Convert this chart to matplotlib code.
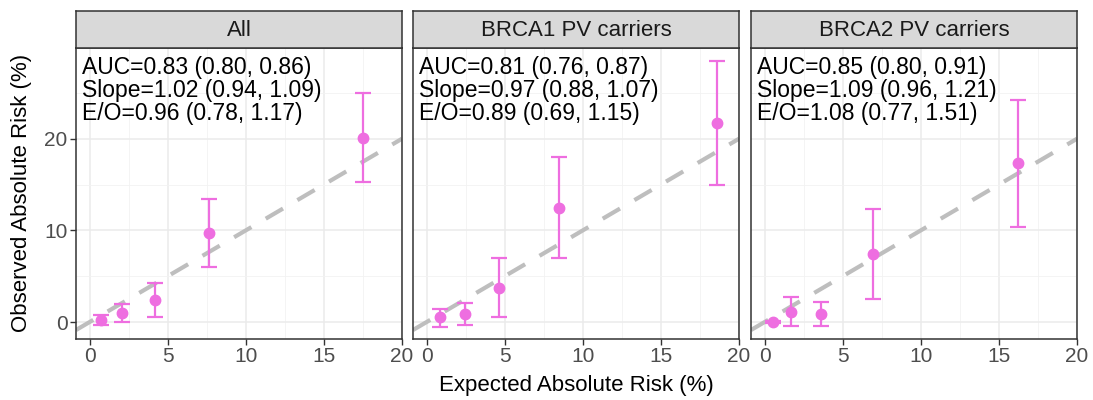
import matplotlib
matplotlib.use('Agg')
import matplotlib.pyplot as plt
import numpy as np
from matplotlib.ticker import MultipleLocator

plt.rcParams['font.family'] = ['Liberation Sans', 'DejaVu Sans']

panels = ['All', 'BRCA1 PV carriers', 'BRCA2 PV carriers']

# expected (x), observed (y) and 95% CI of observed, per panel
expected = [
    [0.70, 2.08, 4.20, 7.65, 17.50],
    [0.85, 2.47, 4.64, 8.50, 18.57],
    [0.53, 1.69, 3.63, 6.92, 16.20],
]
observed = [
    [0.20, 1.00, 2.40, 9.70, 20.10],
    [0.50, 0.87, 3.70, 12.40, 21.70],
    [0.00, 1.10, 0.90, 7.40, 17.35],
]
ci_low = [
    [-0.30, 0.00, 0.60, 6.00, 15.30],
    [-0.55, -0.36, 0.55, 6.95, 14.90],
    [-0.10, -0.47, -0.40, 2.50, 10.40],
]
ci_high = [
    [0.80, 1.96, 4.30, 13.45, 25.00],
    [1.45, 2.07, 6.95, 17.96, 28.50],
    [0.10, 2.73, 2.20, 12.30, 24.20],
]
stats = [
    ['AUC=0.83 (0.80, 0.86)', 'Slope=1.02 (0.94, 1.09)', 'E/O=0.96 (0.78, 1.17)'],
    ['AUC=0.81 (0.76, 0.87)', 'Slope=0.97 (0.88, 1.07)', 'E/O=0.89 (0.69, 1.15)'],
    ['AUC=0.85 (0.80, 0.91)', 'Slope=1.09 (0.96, 1.21)', 'E/O=1.08 (0.77, 1.51)'],
]

pink = '#EE6EE0'
dark = '#333333'
W, H = 1093, 400
fig = plt.figure(figsize=(W / 100, H / 100), dpi=100)

lefts = [76, 413, 751]
pw = 326
top, bottom, strip_top = 48, 339, 11

for i in range(3):
    ax = fig.add_axes([lefts[i] / W, 1 - bottom / H, pw / W, (bottom - top) / H])
    st = fig.add_axes([lefts[i] / W, 1 - top / H, pw / W, (top - strip_top) / H])
    st.set_facecolor('#D9D9D9')
    st.set_xticks([]); st.set_yticks([])
    for s in st.spines.values():
        s.set_color(dark); s.set_linewidth(1.1)
    st.text(0.5, 0.47, panels[i], ha='center', va='center', fontsize=16,
            color='#1A1A1A', transform=st.transAxes)

    ax.set_xlim(-0.87, 20.0)
    ax.set_ylim(-1.85, 29.9)
    ax.xaxis.set_major_locator(MultipleLocator(5))
    ax.xaxis.set_minor_locator(MultipleLocator(2.5))
    ax.yaxis.set_major_locator(MultipleLocator(10))
    ax.yaxis.set_minor_locator(MultipleLocator(5))
    ax.grid(which='major', color='#EBEBEB', linewidth=1.1)
    ax.grid(which='minor', color='#F2F2F2', linewidth=0.6)
    ax.set_axisbelow(True)
    for s in ax.spines.values():
        s.set_color(dark); s.set_linewidth(1.1)
    ax.tick_params(which='major', length=4, width=1.0, color=dark,
                   labelsize=15, labelcolor='#4D4D4D', pad=2)
    ax.tick_params(which='minor', length=0)
    if i > 0:
        ax.tick_params(axis='y', labelleft=False, length=0)

    ax.axline((0, 0), slope=1, color='#BEBEBE', linewidth=3,
              dashes=(4.8, 4.0), dash_capstyle='butt', zorder=2)

    x = np.array(expected[i]); y = np.array(observed[i])
    lo = np.array(ci_low[i]); hi = np.array(ci_high[i])
    ax.errorbar(x, y, yerr=[y - lo, hi - y], fmt='o', color=pink,
                markersize=7.5, elinewidth=1.6, capsize=5.5, capthick=1.6,
                zorder=3)

    # three stats lines as one text block (tight line spacing as in the original)
    ax.text(0.018, 0.972, '\n'.join(stats[i]), transform=ax.transAxes,
            ha='left', va='top', fontsize=16.5, color='black', linespacing=1.0)

fig.text(576 / W, 1 - 385 / H, 'Expected Absolute Risk (%)', ha='center',
         va='center', fontsize=16, color='black')
fig.text(22 / W, 1 - 193 / H, 'Observed Absolute Risk (%)', ha='center',
         va='center', fontsize=16, color='black', rotation=90)

fig.savefig('out.png', dpi=100)
